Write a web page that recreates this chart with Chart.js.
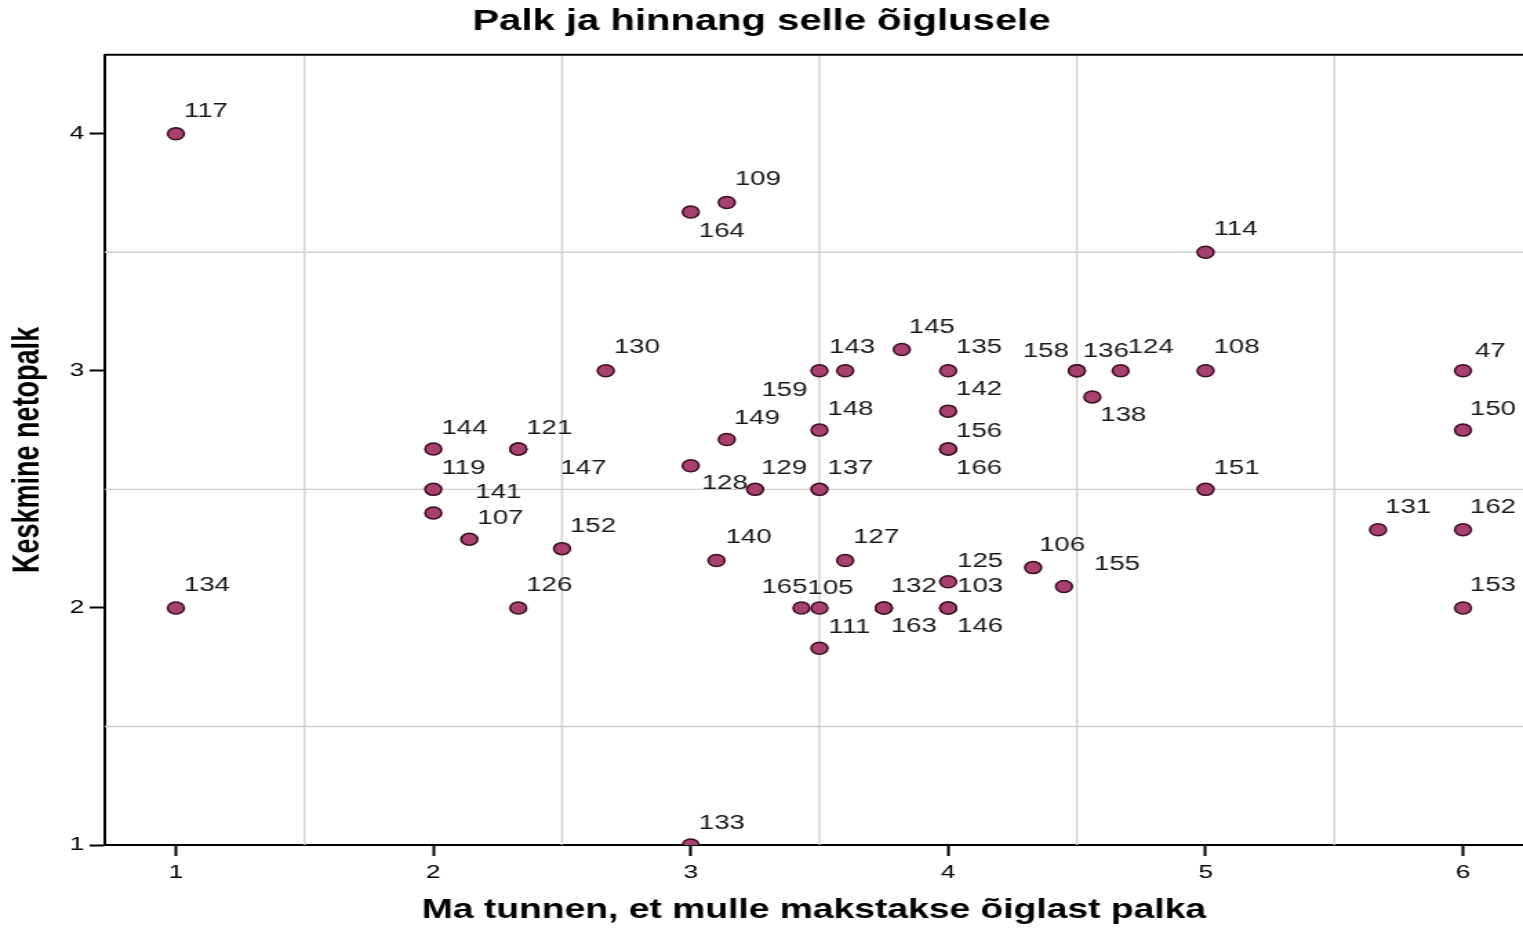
<!DOCTYPE html>
<html>
<head>
<meta charset="utf-8">
<title>Palk ja hinnang selle õiglusele</title>
<script src="https://cdn.jsdelivr.net/npm/chart.js@4.4.1/dist/chart.umd.min.js"></script>
<style>
  html, body { margin: 0; padding: 0; background: #fff; overflow: hidden; }
  /* the original picture is stretched sideways, so the chart is drawn narrower and widened */
  #alus { width: 1104px; height: 928px; transform: scaleX(1.3795); transform-origin: 0 0; }
  #graafik { display: block; width: 1104px; height: 928px; }
</style>
</head>
<body>
<div id="alus"><canvas id="graafik" width="1104" height="928"></canvas></div>
<script>
// respondent numbers and their answers
var ids   = ["117","134","109","164","114","130","143","159","145","135",
             "142","156","166","158","136","124","138","108","151","47",
             "150","131","162","153","144","121","147","119","141","107",
             "152","126","149","148","128","129","137","140","127","165",
             "105","111","132","163","125","103","146","106","155","133"];
// Ma tunnen, et mulle makstakse õiglast palka
var xVals = [1, 1, 3.14, 3, 5, 2.67, 3.6, 3.5, 3.82, 4,
             4, 4, 4, 4.5, 4.5, 4.67, 4.56, 5, 5, 6,
             6, 5.67, 6, 6, 2, 2.33, 2.33, 2, 2, 2.14,
             2.5, 2.33, 3.14, 3.5, 3, 3.25, 3.5, 3.1, 3.6, 3.43,
             3.5, 3.5, 3.75, 3.75, 4, 4, 4, 4.33, 4.45, 3];
// Keskmine netopalk
var yVals = [4, 2, 3.71, 3.67, 3.5, 3, 3, 3, 3.09, 3,
             2.83, 2.67, 2.67, 3, 3, 3, 2.89, 3, 2.5, 3,
             2.75, 2.33, 2.33, 2, 2.67, 2.67, 2.67, 2.5, 2.4, 2.29,
             2.25, 2, 2.71, 2.75, 2.6, 2.5, 2.5, 2.2, 2.2, 2,
             2, 1.83, 2, 2, 2.11, 2, 2, 2.17, 2.09, 1];

var xTicks = [1, 2, 3, 4, 5, 6];
var yTicks = [1, 2, 3, 4];
var xGrid = [1.5, 2.5, 3.5, 4.5, 5.5];
var yGrid = [1.5, 2.5, 3.5];

// where each number label sits next to its point (screen px: left edge, middle)
var labelOffsets = [[8,-22],[8,-22],[8,-23],[8,19],[8,-23],[8,-23],[-16,-23],[-58,20],[7,-22],[8,-23],
                    [8,-22],[8,-18],[8,19],[-54,-19],[6,-19],[7,-23],[8,19],[8,-23],[8,-21],[12,-19],
                    [7,-21],[7,-22],[7,-22],[7,-22],[8,-21],[8,-21],[42,19],[8,-21],[42,-21],[8,-21],
                    [8,-22],[8,-22],[7,-21],[8,-21],[11,18],[6,-21],[8,-21],[9,-23],[8,-23],[-40,-20],
                    [-12,-19],[9,-21],[7,-21],[7,19],[9,-20],[9,-21],[9,19],[6,-22],[30,-22],[8,-22]];

var venitus = 1.3795;
var kiri = "'Liberation Sans', Arial, sans-serif";

var punktid = [];
for (var i = 0; i < ids.length; i++) {
    punktid.push({x: xVals[i], y: yVals[i]});
}

// light grid lines between the tick values, plus the top frame line
var vorgustik = {
    id: 'vorgustik',
    beforeDatasetsDraw: function(chart) {
        var ctx = chart.ctx;
        var ala = chart.chartArea;
        ctx.save();
        ctx.strokeStyle = '#cfcfcf';
        ctx.lineWidth = 1.4;
        xGrid.forEach(function(v) {
            var px = chart.scales.x.getPixelForValue(v);
            ctx.beginPath(); ctx.moveTo(px, ala.top); ctx.lineTo(px, ala.bottom); ctx.stroke();
        });
        yGrid.forEach(function(v) {
            var py = chart.scales.y.getPixelForValue(v);
            ctx.beginPath(); ctx.moveTo(ala.left, py); ctx.lineTo(ala.right, py); ctx.stroke();
        });
        ctx.strokeStyle = '#000';
        ctx.lineWidth = 2;
        ctx.beginPath(); ctx.moveTo(ala.left, ala.top); ctx.lineTo(ala.right, ala.top); ctx.stroke();
        ctx.restore();
    }
};

// respondent numbers next to the points
var sildid = {
    id: 'sildid',
    afterDatasetsDraw: function(chart) {
        var ctx = chart.ctx;
        ctx.save();
        ctx.font = '20px ' + kiri;
        ctx.fillStyle = '#1a1a1a';
        ctx.textAlign = 'left';
        ctx.textBaseline = 'middle';
        for (var i = 0; i < ids.length; i++) {
            var px = chart.scales.x.getPixelForValue(xVals[i]);
            var py = chart.scales.y.getPixelForValue(yVals[i]);
            ctx.fillText(ids[i], px + labelOffsets[i][0] / venitus, py + labelOffsets[i][1]);
        }
        ctx.restore();
    }
};

new Chart(document.getElementById('graafik'), {
    type: 'scatter',
    data: {
        datasets: [{
            data: punktid,
            pointRadius: 6,
            pointHoverRadius: 6,
            pointBackgroundColor: '#a8416f',
            pointBorderColor: '#3a0f24',
            pointBorderWidth: 1.5,
            clip: 0
        }]
    },
    options: {
        responsive: false,
        animation: false,
        layout: { padding: 0, autoPadding: false },
        plugins: {
            legend: { display: false },
            tooltip: { enabled: false },
            title: {
                display: true,
                text: 'Palk ja hinnang selle õiglusele',
                color: '#000',
                font: { family: kiri, size: 29, weight: 'bold' },
                padding: { top: 5, bottom: 15 }
            }
        },
        scales: {
            x: {
                type: 'linear',
                min: 0.724,
                max: 6.233,
                afterBuildTicks: function(scale) {
                    scale.ticks = xTicks.map(function(v) { return {value: v}; });
                },
                afterFit: function(scale) { scale.height = 83; },
                grid: { drawOnChartArea: false, tickColor: '#000', tickLength: 11, tickWidth: 2 },
                border: { color: '#000', width: 2 },
                ticks: { color: '#000', padding: 5, font: { family: kiri, size: 19 } },
                title: {
                    display: true,
                    text: 'Ma tunnen, et mulle makstakse õiglast palka',
                    color: '#000',
                    font: { family: kiri, size: 27, weight: 'bold' },
                    padding: { top: 0, bottom: 1 }
                }
            },
            y: {
                type: 'linear',
                min: 1,
                max: 4.333,
                afterBuildTicks: function(scale) {
                    scale.ticks = yTicks.map(function(v) { return {value: v}; });
                },
                afterFit: function(scale) { scale.width = 76; },
                grid: { drawOnChartArea: false, tickColor: '#000', tickLength: 11, tickWidth: 2 },
                border: { color: '#000', width: 2 },
                ticks: { color: '#000', padding: 4, font: { family: kiri, size: 19 } },
                title: {
                    display: true,
                    text: 'Keskmine netopalk',
                    color: '#000',
                    font: { family: kiri, size: 27, weight: 'bold' },
                    padding: { top: 4, bottom: 0 }
                }
            }
        }
    },
    plugins: [vorgustik, sildid]
});
</script>
</body>
</html>
